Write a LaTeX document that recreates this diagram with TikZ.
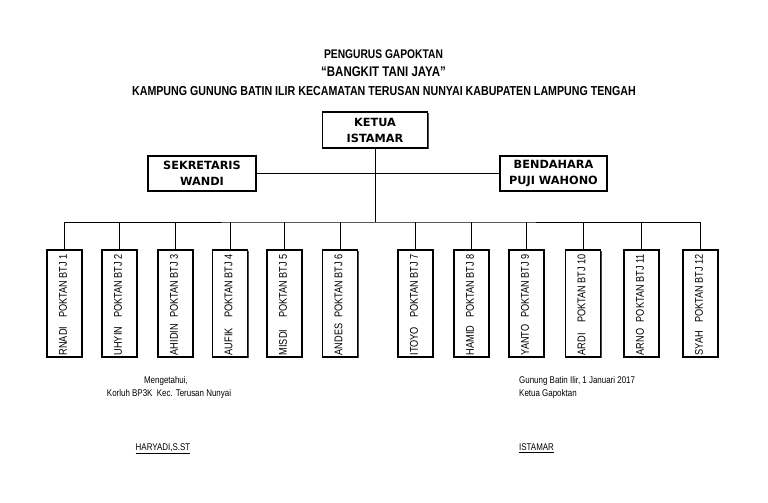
\documentclass[tikz,border=0pt]{standalone}
\usepackage{fontspec}
\setmainfont{Liberation Sans}
\newfontfamily\narrow[FakeStretch=0.82]{Liberation Sans}
\newfontfamily\dvb{DejaVu Sans}
\usetikzlibrary{shadows}
\begin{document}
\begin{tikzpicture}[x=1pt,y=1pt,
  conn/.style={line width=0.9pt},
  shadowed/.style={drop shadow={shadow xshift=1.2pt, shadow yshift=-1.2pt, fill=black!70, opacity=1}},
  topbox/.style={draw, line width=1.1pt, fill=white, shadowed, align=center,
    minimum width=105pt, minimum height=36pt,
    font=\dvb\bfseries\fontsize{11.3}{16}\selectfont},
  pbox/.style={draw, line width=1.1pt, fill=white, shadowed, inner sep=0pt,
    minimum width=35pt, minimum height=107pt},
  vtext/.style={rotate=90, anchor=east, inner sep=0pt,
    font=\narrow\fontsize{11.2}{12}\selectfont},
  small/.style={inner sep=0pt, font=\narrow\fontsize{9.7}{12}\selectfont},
  titletext/.style={inner sep=0pt}
]
\path[use as bounding box] (0,0) rectangle (768,-503);

% titles
\node[titletext, font=\narrow\bfseries\fontsize{12.5}{14}\selectfont] (t1) at (383.5,-54) {PENGURUS GAPOKTAN};
\node[titletext, font=\narrow\bfseries\fontsize{14}{16}\selectfont] (t2) at (383.5,-72) {“BANGKIT TANI JAYA”};
\node[titletext, font=\narrow\bfseries\fontsize{13}{15}\selectfont] (t3) at (384,-91) {KAMPUNG GUNUNG BATIN ILIR KECAMATAN TERUSAN NUNYAI KABUPATEN LAMPUNG TENGAH};

% top boxes
\node[topbox] (ketua) at (375,-130) {KETUA\\ISTAMAR};
\node[topbox, minimum width=108pt, minimum height=35pt] (sek) at (202,-173.5) {SEKRETARIS\\WANDI};
\node[topbox, minimum width=107pt, minimum height=35pt] (bend) at (553.5,-173.5) {BENDAHARA\\PUJI WAHONO};

% poktan boxes
\foreach \i/\x/\nm in {1/64.5/RNADI, 2/119.5/UHYIN, 3/175.5/AHIDIN, 4/230/AUFIK,
  5/284.5/MISDI, 6/340/ANDES, 7/415.5/ITOYO, 8/471.5/HAMID, 9/526.5/YANTO,
  10/583/ARDI, 11/641.5/ARNO, 12/700.5/SYAH} {
  \node[pbox] (p\i) at (\x,-303.5) {};
  \node[vtext] (l\i) at (\x-1.5,-254) {POKTAN BTJ \i};
  \node[vtext, anchor=west] (n\i) at (\x-1.5,-355.5) {\nm};
}

% connectors
\path (ketua.south |- 0,-222) coordinate (bus);
\draw[conn] (ketua.south) -- (bus);
\draw[conn] (sek.east) -- (bend.west);
\draw[conn] (p1.north) |- (bus) -| (p12.north);
\foreach \i in {2,...,11} \draw[conn] (p\i.north) -- (p\i.north |- bus);

% signatures
\node[small, anchor=base] (m1) at (166,-383.5) {Mengetahui,};
\node[small, anchor=base] (m2) at (169,-396.5) {Korluh BP3K\ \ Kec. Terusan Nunyai};
\node[small, anchor=base] (m3) at (163,-450.5) {\underline{HARYADI,S.ST}};
\node[small, anchor=base west] (r1) at (519,-383.5) {Gunung Batin Ilir, 1 Januari 2017};
\node[small, anchor=base west] (r2) at (519,-396.5) {Ketua Gapoktan};
\node[small, anchor=base west] (r3) at (519,-450.5) {\underline{ISTAMAR}};
\end{tikzpicture}
\end{document}
